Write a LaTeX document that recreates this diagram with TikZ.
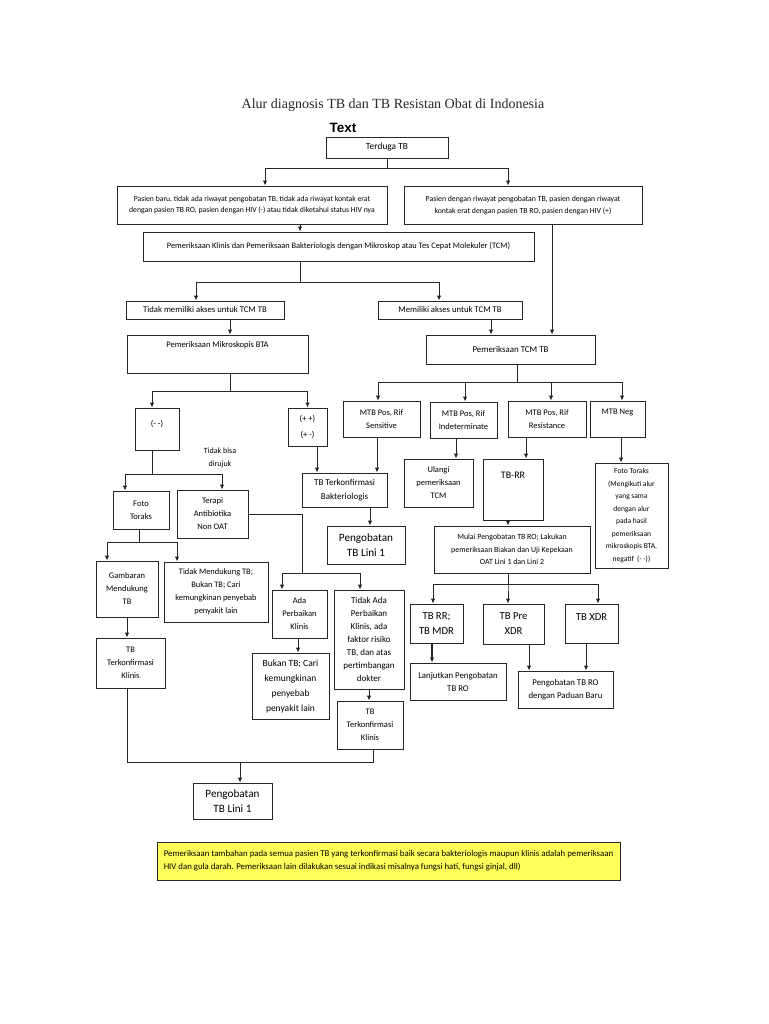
\documentclass[tikz,border=0pt]{standalone}
\usepackage{fontspec}
\setmainfont{Carlito}
\newfontfamily\titlefont{Liberation Serif}
\newfontfamily\headfont{Liberation Sans}
\usetikzlibrary{arrows.meta,shadows}
\definecolor{notefill}{RGB}{255,255,90}

\tikzset{
    sz/.style 2 args={minimum width=#1pt, minimum height=#2pt},
    fsz/.style 2 args={font=\fontsize{#1}{#2}\selectfont},
    box/.style={draw=black!85, line width=0.9pt, fill=white, align=center, inner sep=1pt,
        text=black, drop shadow={shadow xshift=1pt, shadow yshift=-1pt, opacity=0.35},
        fsz={8.5}{13}},
    bigbox/.style={box, fsz={11.2}{15}},
    note/.style={box, fill=notefill, align=left, fsz={8.8}{13}},
    plain/.style={align=center, text=black, inner sep=1pt, fsz={8}{13}},
    arr/.style={draw=black!85, line width=0.9pt, -{Latex[length=5pt,width=4.5pt]}},
    link/.style={draw=black!85, line width=0.9pt},
}

\begin{document}
\begin{tikzpicture}[x=1pt, y=-1pt]
\useasboundingbox (0,0) rectangle (768,1024);
%%   kw   (name)   (x, y)   {text}
    \node[plain, font=\titlefont\fontsize{14}{16}\selectfont, text=black!85] (judul) at (393,105) {Alur diagnosis TB dan TB Resistan Obat di Indonesia};
    \node[plain, font=\headfont\bfseries\fontsize{13.5}{16}\selectfont] (teks) at (343,128) {Text};

    \node[box, sz={122}{21}, fsz={9.4}{13}] (terduga) at (387,147.5) {Terduga TB};
    \node[box, sz={270}{38}, fsz={7.7}{11}] (pasienbaru) at (252,205) {Pasien baru, tidak ada riwayat pengobatan TB, tidak ada riwayat kontak erat\\dengan pasien TB RO, pasien dengan HIV (-) atau tidak diketahui status HIV nya};
    \node[box, sz={238}{38}, fsz={7.8}{12}] (pasienhiv) at (523,205) {Pasien dengan riwayat pengobatan TB, pasien dengan riwayat\\kontak erat dengan pasien TB RO, pasien dengan HIV (+)};
    \node[box, sz={391}{29}, fsz={8.35}{13}] (klinis) at (338.5,246.5) {Pemeriksaan Klinis dan Pemeriksaan Bakteriologis dengan Mikroskop atau Tes Cepat Molekuler (TCM)};

    \node[box, sz={158}{18}, fsz={8.7}{13}] (tidakakses) at (205,310) {Tidak memiliki akses untuk TCM TB};
    \node[box, sz={144}{18}, fsz={8.7}{13}] (akses) at (450,310) {Memiliki akses untuk TCM TB};
    \node[box, sz={181}{38}, text depth=18pt] (mikro) at (217.5,354) {Pemeriksaan Mikroskopis BTA};
    \node[box, sz={169}{29}, fsz={8.9}{13}] (tcm) at (510.5,349.5) {Pemeriksaan TCM TB};

    \node[box, sz={44}{42}, fsz={8.5}{13}, text depth=12pt] (negatif) at (157,429) {(- -)};
    \node[box, sz={39}{38}, fsz={8.5}{16}] (positif) at (307.5,427) {(+ +)\\(+ -)};
    \node[box, sz={77}{36}] (sensitif) at (381.5,419) {MTB Pos, Rif\\Sensitive};
    \node[box, sz={67}{36}] (indet) at (463.5,420) {MTB Pos, Rif\\Indeterminate};
    \node[box, sz={78}{36}] (resisten) at (547,419) {MTB Pos, Rif\\Resistance};
    \node[box, sz={55}{36}, text depth=14pt] (mtbneg) at (617.5,419) {MTB Neg};

    \node[plain] (dirujuk) at (220,458) {Tidak bisa\\dirujuk};
    \node[box, sz={56}{38}] (foto) at (141,510) {Foto\\Toraks};
    \node[box, sz={71}{48}] (terapi) at (212.5,514) {Terapi\\Antibiotika\\Non OAT};
    \node[box, sz={85}{34}, fsz={9}{14}] (bakteri) at (344.5,490) {TB Terkonfirmasi\\Bakteriologis};
    \node[box, sz={69}{48}] (ulangi) at (438.5,483) {Ulangi\\pemeriksaan\\TCM};
    \node[box, sz={60}{61}, fsz={10}{14}, text depth=28pt] (tbrr) at (513,489.5) {TB-RR};
    \node[box, sz={73}{105}, fsz={7.5}{12.5}] (fotoneg) at (631.5,515.5) {Foto Toraks\\(Mengikuti alur\\yang sama\\dengan alur\\pada hasil\\pemeriksaan\\mikroskopis BTA,\\negatif~~(- -))};

    \node[bigbox, sz={78}{38}] (lini1a) at (366,545) {Pengobatan\\TB Lini 1};
    \node[box, sz={156}{47}, fsz={7.9}{12.5}] (mulai) at (512,549.5) {Mulai Pengobatan TB RO; Lakukan\\pemeriksaan Biakan dan Uji Kepekaan\\OAT Lini 1 dan Lini 2};

    \node[box, sz={62}{56}] (gambaran) at (127,589) {Gambaran\\Mendukung\\TB};
    \node[box, sz={104}{60}, fsz={8.4}{13}] (tdkdukung) at (216,592) {Tidak Mendukung TB;\\Bukan TB; Cari\\kemungkinan penyebab\\penyakit lain};
    \node[box, sz={55}{48}] (ada) at (299.5,614) {Ada\\Perbaikan\\Klinis};
    \node[box, sz={70}{99}, fsz={9}{13}] (tidakada) at (369,639.5) {Tidak Ada\\Perbaikan\\Klinis, ada\\faktor risiko\\TB, dan atas\\pertimbangan\\dokter};

    \node[box, sz={53}{39}, fsz={10.7}{15}] (mdr) at (436.5,623.5) {TB RR;\\TB MDR};
    \node[box, sz={61}{40}, fsz={10.7}{15}] (prexdr) at (513.5,624) {TB Pre\\XDR};
    \node[box, sz={53}{39}, fsz={10.7}{15}, text depth=13.5pt] (xdr) at (591.5,623.5) {TB XDR};

    \node[box, sz={69}{50}] (klinisa) at (130.5,663) {TB\\Terkonfirmasi\\Klinis};
    \node[box, sz={77}{66}, fsz={9.5}{15}] (bukan) at (290.5,686) {Bukan TB; Cari\\kemungkinan\\penyebab\\penyakit lain};
    \node[box, sz={96}{37}, fsz={8.8}{13}] (lanjut) at (458,681.5) {Lanjutkan Pengobatan\\TB RO};
    \node[box, sz={95}{37}, fsz={8.8}{13}] (paduan) at (565.5,689.5) {Pengobatan TB RO\\dengan Paduan Baru};
    \node[box, sz={66}{48}] (klinisb) at (370,725) {TB\\Terkonfirmasi\\Klinis};

    \node[bigbox, sz={79}{36}] (lini1b) at (232.5,801) {Pengobatan\\TB Lini 1};
    \node[note, sz={463}{38}] (catatan) at (388.5,861) {Pemeriksaan tambahan pada semua pasien TB yang terkonfirmasi baik secara bakteriologis maupun klinis adalah pemeriksaan\\HIV dan gula darah. Pemeriksaan lain dilakukan sesuai indikasi misalnya fungsi hati, fungsi ginjal, dll)};

    \coordinate (belok) at (302,573);
    \coordinate (gabung) at (240,762);

    \draw[arr] (terduga.south) -- ++(0,10) -| ([xshift=13pt]pasienbaru.north);
    \draw[arr] (terduga.south) -- ++(0,10) -| ([xshift=-15pt]pasienhiv.north);
    \draw[arr] ([xshift=48pt]pasienbaru.south) -- ([xshift=48pt]pasienbaru.south |- klinis.north);
    \draw[arr] ([xshift=29pt]pasienhiv.south) -- ([xshift=29pt]pasienhiv.south |- tcm.north);
    \draw[arr] ([xshift=-38.5pt]klinis.south) -- ++(0,21) -| ([xshift=-9pt]tidakakses.north);
    \draw[arr] ([xshift=-38.5pt]klinis.south) -- ++(0,21) -| ([xshift=-11pt]akses.north);
    \draw[arr] ([xshift=25pt]tidakakses.south) -- ([xshift=25pt]tidakakses.south |- mikro.north);
    \draw[arr] ([xshift=41pt]akses.south) -- ([xshift=41pt]akses.south |- tcm.north);

    \draw[arr] ([xshift=12.5pt]mikro.south) -- ++(0,18) -| ([xshift=-5pt]negatif.north);
    \draw[arr] ([xshift=12.5pt]mikro.south) -- ++(0,18) -| (positif.north);
    \draw[arr] ([xshift=6.5pt]tcm.south) -- ++(0,18) -| ([xshift=-3.5pt]sensitif.north);
    \draw[arr] ([xshift=6.5pt]tcm.south) -- ++(0,18) -| ([xshift=1.5pt]indet.north);
    \draw[arr] ([xshift=6.5pt]tcm.south) -- ++(0,18) -| ([xshift=4pt]resisten.north);
    \draw[arr] ([xshift=6.5pt]tcm.south) -- ++(0,18) -| ([xshift=4.5pt]mtbneg.north);

    \draw[arr] ([xshift=-5pt]negatif.south) -- ++(0,24) -| ([xshift=-16pt]foto.north);
    \draw[arr] ([xshift=-5pt]negatif.south) -- ++(0,24) -| ([xshift=9.5pt]terapi.north);
    \draw[arr] ([xshift=9.5pt]positif.south) -- ([xshift=9.5pt]positif.south |- bakteri.north);
    \draw[arr] ([xshift=-4.5pt]sensitif.south) -- ([xshift=-4.5pt]sensitif.south |- bakteri.north);
    \draw[arr] ([xshift=-7.5pt]indet.south) -- ([xshift=-7.5pt]indet.south |- ulangi.north);
    \draw[arr] ([xshift=-21pt]resisten.south) -- ([xshift=-21pt]resisten.south |- tbrr.north);
    \draw[arr] ([xshift=3.5pt]mtbneg.south) -- ([xshift=3.5pt]mtbneg.south |- fotoneg.north);
    \draw[arr] ([xshift=25.5pt]bakteri.south) -- ([xshift=25.5pt]bakteri.south |- lini1a.north);
    \draw[arr] ([xshift=-5pt]tbrr.south) -- ([xshift=-5pt]tbrr.south |- mulai.north);

    \draw[link] (terapi.east) -| (belok);
    \draw[arr] (belok) -| ([xshift=-17.5pt]ada.north);
    \draw[arr] (belok) -| ([xshift=-9pt]tidakada.north);
    \draw[arr] ([xshift=-2pt]foto.south) -- ++(0,13) -| ([xshift=-20pt]gambaran.north);
    \draw[arr] ([xshift=-2pt]foto.south) -- ++(0,13) -| ([xshift=-39pt]tdkdukung.north);
    \draw[arr] (gambaran.south) -- (gambaran.south |- klinisa.north);
    \draw[arr] ([xshift=-1.5pt]ada.south) -- ([xshift=-1.5pt]ada.south |- bukan.north);
    \draw[arr] (tidakada.south) -- (tidakada.south |- klinisb.north);

    \draw[arr] ([xshift=-4pt]mulai.south) -- ++(0,11) -| ([xshift=-3.5pt]mdr.north);
    \draw[arr] ([xshift=-4pt]mulai.south) -- ++(0,11) -| ([xshift=-5.5pt]prexdr.north);
    \draw[arr] ([xshift=-4pt]mulai.south) -- ++(0,11) -| ([xshift=6.5pt]xdr.north);
    \draw[arr, line width=1.4pt] ([xshift=-4.5pt]mdr.south) -- ([xshift=-4.5pt]mdr.south |- lanjut.north);
    \draw[arr] ([xshift=15.5pt]prexdr.south) -- ([xshift=15.5pt]prexdr.south |- paduan.north);
    \draw[arr] ([xshift=-5.5pt]xdr.south) -- ([xshift=-5.5pt]xdr.south |- paduan.north);

    \draw[link] ([xshift=-3.5pt]klinisa.south) |- (gabung);
    \draw[link] ([xshift=3pt]klinisb.south) |- (gabung);
    \draw[arr] (gabung) -- (gabung |- lini1b.north);
\end{tikzpicture}
\end{document}
